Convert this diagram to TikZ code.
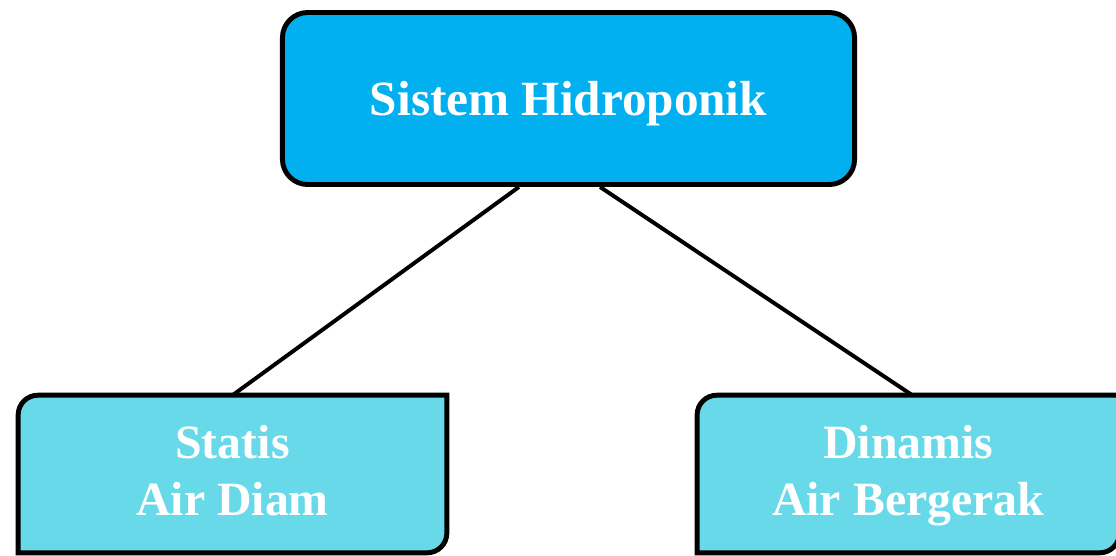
\documentclass[tikz,border=0pt]{standalone}
\usepackage{fontspec}
\setmainfont{Liberation Serif}
\usepackage{xcolor}
\usetikzlibrary{backgrounds}
\definecolor{hidroblue}{HTML}{03B0EF}
\definecolor{hidrocyan}{HTML}{67D9E8}
\tikzset{
  topbox/.style={draw=black, line width=3.5pt, fill=hidroblue, rounded corners=18pt,
    minimum width=14.3cm, minimum height=4.3cm, text=white, text depth=0pt,
    font=\fontsize{35}{42}\selectfont\bfseries},
  subbox/.style={minimum height=3.925cm, text=white, align=center, text depth=5.7pt,
    font=\fontsize{34}{40.5}\selectfont\bfseries},
  outline/.style={draw=black, line width=3.5pt, fill=hidrocyan},
  link/.style={line width=2.8pt},
}

\begin{document}
\begin{tikzpicture}[x=0.025cm, y=-0.025cm]
  \useasboundingbox (0,0) rectangle (1116,555);
  \node[topbox] (hidro) at (568.5,98.5) {Sistem Hidroponik};
  \node[subbox, minimum width=10.7cm] (statis) at (232.5,474) {Statis\\Air Diam};
  \node[subbox, minimum width=10.54cm] (dinamis) at (908.25,474) {Dinamis\\Air Bergerak};
  % boxes with two round corners
  \begin{scope}[on background layer]
    \foreach \b in {statis,dinamis}
      \path[outline] (\b.south) -- (\b.south west)
        [rounded corners=14pt] -- (\b.north west) [sharp corners]
        -- (\b.north east) [rounded corners=14pt] -- (\b.south east)
        [sharp corners] -- (\b.south) -- cycle;
  \end{scope}
  \draw[link] ([xshift=-1.24cm]hidro.south) -- (statis.north);
  \draw[link] ([xshift=0.79cm]hidro.south) -- ([xshift=0.1cm]dinamis.north);
\end{tikzpicture}
\end{document}
